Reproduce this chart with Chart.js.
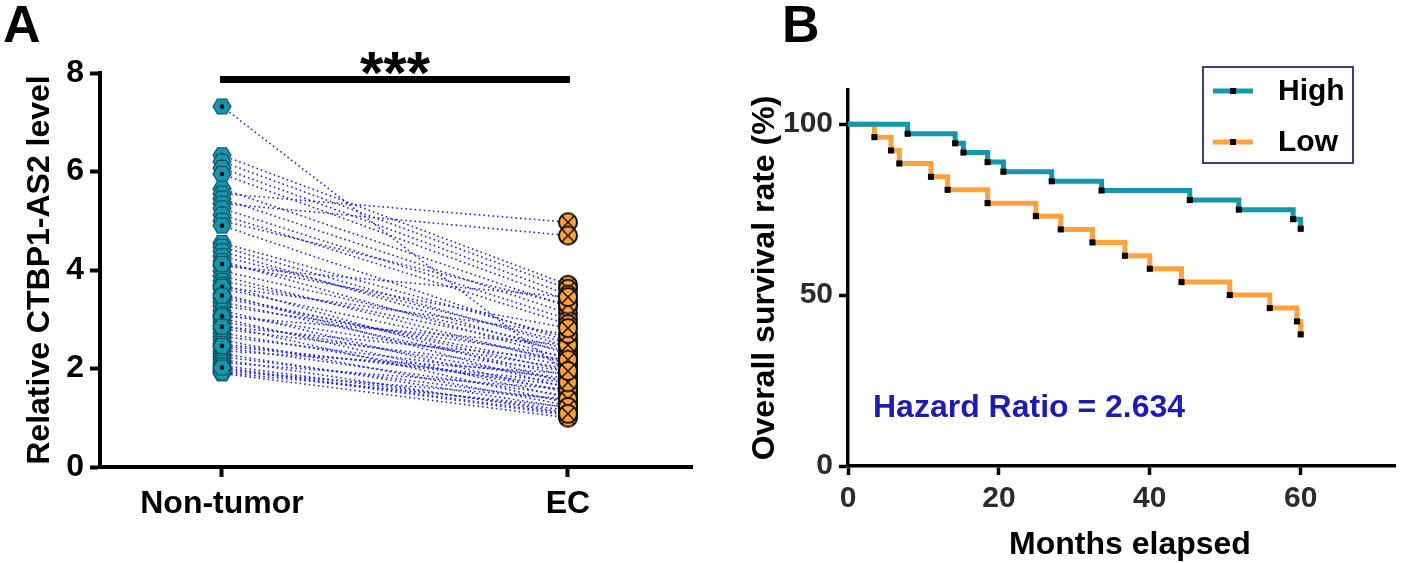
<!DOCTYPE html>
<html>
<head>
<meta charset="utf-8">
<script src="https://cdn.jsdelivr.net/npm/chart.js@4"></script>
<style>
html, body { margin: 0; padding: 0; background: #fff; }
body { width: 1418px; height: 563px; position: relative; overflow: hidden; }
canvas { position: absolute; top: 0; }
#chartA { left: 0; }
#chartB { left: 740px; }
</style>
</head>
<body>
<canvas id="chartA" width="710" height="563"></canvas>
<canvas id="chartB" width="678" height="563"></canvas>
<script>
// panel A: paired expression values
var groups = ['Non-tumor', 'EC'];
var levelTicks = [0, 2, 4, 6, 8];
var nonTumor = [7.32, 6.33, 6.20, 6.07, 5.95, 5.65, 5.55, 5.45, 5.35, 5.25,
                5.12, 5.00, 4.90, 4.55, 4.47, 4.38, 4.28, 4.18, 4.08, 3.98,
                3.88, 3.78, 3.70, 3.62, 3.52, 3.43, 3.35, 3.27, 3.18, 3.10,
                3.02, 2.95, 2.88, 2.80, 2.72, 2.65, 2.58, 2.50, 2.43, 2.36,
                2.30, 2.24, 2.18, 2.12, 2.06, 2.00, 1.95, 1.90, 1.92, 2.02,
                3.06, 3.66, 2.46, 2.85, 4.12, 3.48];
var ecLevel = [1.90, 3.70, 3.62, 3.50, 3.38, 3.25, 4.97, 3.12, 4.70, 3.00,
               2.90, 3.30, 2.55, 2.62, 2.45, 2.30, 2.52, 2.20, 3.45, 2.40,
               2.10, 2.35, 1.70, 2.15, 1.60, 2.05, 1.85, 2.25, 1.50, 2.00,
               1.40, 1.75, 1.30, 1.95, 1.55, 1.80, 1.25, 1.65, 1.45, 1.90,
               1.20, 1.35, 1.10, 1.58, 1.15, 1.05, 1.38, 1.00, 1.22, 1.08,
               2.48, 2.70, 1.72, 2.18, 2.82, 1.95];

// panel B: Kaplan-Meier steps
var monthTicks = [0, 20, 40, 60];
var survivalTicks = [0, 50, 100];
var highMonths = [0, 7.9, 14.2, 15.3, 18.5, 20.6, 27.0, 33.6, 45.3, 51.8, 59.0, 60];
var highSurvival = [100, 97.2, 94.4, 91.7, 88.9, 86.1, 83.3, 80.6, 77.8, 75.0, 72.2, 69.4];
var lowMonths = [0, 3.5, 5.7, 6.8, 11.0, 13.2, 18.5, 24.9, 28.2, 32.4, 36.7, 40.0, 44.2, 50.6, 55.9, 59.5, 60];
var lowSurvival = [100, 96.2, 92.3, 88.5, 84.6, 80.8, 76.9, 73.1, 69.2, 65.4, 61.5, 57.7, 53.8, 50.0, 46.2, 42.3, 38.5];
var seriesNames = ['High', 'Low'];
var hazardText = 'Hazard Ratio = 2.634';

var FAMILY = '"Liberation Sans", Arial, Helvetica, sans-serif';
var TEAL = '#1696ae';
var ORANGE = '#ffa23e';

function font(size) {
    return { family: FAMILY, size: size, weight: 'bold', lineHeight: 1.2 };
}

// marker images
function makeHex() {
    var c = document.createElement('canvas');
    c.width = 20; c.height = 18;
    var g = c.getContext('2d');
    g.beginPath();
    g.moveTo(1, 9); g.lineTo(5.5, 1.5); g.lineTo(14.5, 1.5);
    g.lineTo(19, 9); g.lineTo(14.5, 16.5); g.lineTo(5.5, 16.5);
    g.closePath();
    g.fillStyle = TEAL; g.fill();
    g.lineWidth = 1.2; g.strokeStyle = '#0f4c59'; g.stroke();
    g.beginPath(); g.arc(10, 9, 2.2, 0, Math.PI * 2);
    g.fillStyle = '#000'; g.fill();
    return c;
}
function makeCross() {
    var c = document.createElement('canvas');
    c.width = 22; c.height = 22;
    var g = c.getContext('2d');
    g.beginPath(); g.arc(11, 11, 9, 0, Math.PI * 2);
    g.fillStyle = ORANGE; g.fill();
    g.lineWidth = 2; g.strokeStyle = '#111'; g.stroke();
    g.beginPath();
    g.moveTo(4.8, 4.8); g.lineTo(17.2, 17.2);
    g.moveTo(17.2, 4.8); g.lineTo(4.8, 17.2);
    g.lineWidth = 1.5; g.stroke();
    return c;
}

// ---------- panel A ----------
var datasetsA = [
    {
        label: groups[0], type: 'scatter', order: 0,
        data: nonTumor.map(function (v) { return { x: 0, y: v }; }),
        pointStyle: makeHex(), pointRadius: 9
    },
    {
        label: groups[1], type: 'scatter', order: 0,
        data: ecLevel.map(function (v) { return { x: 1, y: v }; }),
        pointStyle: makeCross(), pointRadius: 10
    }
];
nonTumor.forEach(function (v, i) {
    datasetsA.push({
        type: 'line', order: 1,
        data: [{ x: 0, y: v }, { x: 1, y: ecLevel[i] }],
        borderColor: '#2626e0', borderWidth: 1.6, borderDash: [1.6, 3],
        pointRadius: 0, fill: false
    });
});

var sigBar = {
    id: 'sigBar',
    afterDraw: function (chart) {
        var c = chart.ctx, xs = chart.scales.x, ys = chart.scales.y;
        var x0 = xs.getPixelForValue(0), x1 = xs.getPixelForValue(1);
        var y = ys.getPixelForValue(8) + 6;
        c.save();
        c.fillStyle = '#000';
        c.fillRect(x0 - 2, y - 3, x1 - x0 + 4, 7);
        c.font = 'bold 60px ' + FAMILY;
        c.textAlign = 'center';
        c.textBaseline = 'alphabetic';
        c.fillText('***', (x0 + x1) / 2, y + 14);
        c.font = 'bold 52px ' + FAMILY;
        c.textAlign = 'left';
        c.fillText('A', 3, 42);
        c.restore();
    }
};

new Chart(document.getElementById('chartA'), {
    type: 'scatter',
    data: { datasets: datasetsA },
    options: {
        responsive: false,
        animation: false,
        layout: { padding: { top: 73, right: 18, left: 0, bottom: 0 } },
        plugins: { legend: { display: false }, tooltip: { enabled: false } },
        scales: {
            x: {
                type: 'linear', min: -0.3526, max: 1.3584,
                afterBuildTicks: function (s) { s.ticks = [{ value: 0 }, { value: 1 }]; },
                afterFit: function (s) { s.height = 96; },
                ticks: {
                    callback: function (v, i) { return groups[i]; },
                    font: font(32), color: '#000', padding: 8, maxRotation: 0
                },
                grid: { drawOnChartArea: false, tickLength: 10, tickWidth: 4, tickColor: '#000' },
                border: { width: 4, color: '#000' }
            },
            y: {
                min: 0, max: 8,
                afterBuildTicks: function (s) { s.ticks = levelTicks.map(function (v) { return { value: v }; }); },
                afterFit: function (s) { s.width = 100; },
                ticks: { font: font(32), color: '#000', padding: 6 },
                grid: { drawOnChartArea: false, tickLength: 10, tickWidth: 4, tickColor: '#000' },
                border: { width: 4, color: '#000' },
                title: {
                    display: true, text: 'Relative CTBP1-AS2 level',
                    font: font(32), color: '#000', padding: { top: 21, bottom: 0 }
                }
            }
        }
    },
    plugins: [sigBar]
});

// ---------- panel B ----------
function kmData(months, surv) {
    return months.map(function (m, i) { return { x: m, y: surv[i] }; });
}
function firstHidden(arr, r) {
    return arr.map(function (m, i) { return i === 0 ? 0 : r; });
}

var legendB = {
    id: 'legendB',
    afterDraw: function (chart) {
        var c = chart.ctx;
        c.save();
        c.lineWidth = 2;
        c.strokeStyle = '#3d3d7c';
        c.strokeRect(463, 67, 150, 96);
        var rows = [[TEAL, 91, seriesNames[0]], [ORANGE, 142, seriesNames[1]]];
        rows.forEach(function (r) {
            c.fillStyle = r[0];
            c.fillRect(473, r[1] - 2.5, 40, 5);
            c.fillStyle = '#000';
            c.fillRect(490, r[1] - 3, 6, 6);
            c.font = 'bold 30px ' + FAMILY;
            c.textAlign = 'left';
            c.textBaseline = 'middle';
            c.fillText(r[2], 538, r[1] + 1);
        });
        c.fillStyle = '#1c1cb0';
        c.font = 'bold 32px ' + FAMILY;
        c.textBaseline = 'middle';
        c.fillText(hazardText, 133, 408);
        // x axis title, centred a little right of the plot centre as in the figure
        c.fillStyle = '#000';
        c.textAlign = 'center';
        c.fillText('Months elapsed', 390, 545);
        c.textAlign = 'left';
        c.font = 'bold 52px ' + FAMILY;
        c.textBaseline = 'alphabetic';
        c.fillText('B', 42, 42);
        c.restore();
    }
};

new Chart(document.getElementById('chartB'), {
    type: 'line',
    data: {
        datasets: [
            {
                label: seriesNames[0], data: kmData(highMonths, highSurvival),
                stepped: true, borderColor: TEAL, borderWidth: 5,
                pointStyle: 'rect', pointRadius: firstHidden(highMonths, 4.3),
                pointBackgroundColor: '#000', pointBorderWidth: 0, fill: false
            },
            {
                label: seriesNames[1], data: kmData(lowMonths, lowSurvival),
                stepped: true, borderColor: ORANGE, borderWidth: 5,
                pointStyle: 'rect', pointRadius: firstHidden(lowMonths, 4.3),
                pointBackgroundColor: '#000', pointBorderWidth: 0, fill: false
            }
        ]
    },
    options: {
        responsive: false,
        animation: false,
        layout: { padding: { top: 90, right: 23, left: 0, bottom: 0 } },
        plugins: { legend: { display: false }, tooltip: { enabled: false } },
        scales: {
            x: {
                type: 'linear', min: 0, max: 72.5,
                afterBuildTicks: function (s) { s.ticks = monthTicks.map(function (v) { return { value: v }; }); },
                afterFit: function (s) { s.height = 97; },
                ticks: { font: font(30), color: '#2b2b2b', padding: 6, maxRotation: 0 },
                grid: { drawOnChartArea: false, tickLength: 9, tickWidth: 3.5, tickColor: '#000' },
                border: { width: 3.5, color: '#000' }
            },
            y: {
                min: 0, max: 110,
                afterBuildTicks: function (s) { s.ticks = survivalTicks.map(function (v) { return { value: v }; }); },
                afterFit: function (s) { s.width = 108; },
                ticks: { font: font(30), color: '#2b2b2b', padding: 6 },
                grid: { drawOnChartArea: false, tickLength: 9, tickWidth: 3.5, tickColor: '#000' },
                border: { width: 3.5, color: '#000' },
                title: {
                    display: true, text: 'Overall survival rate (%)',
                    font: font(32), color: '#000', padding: { top: 6, bottom: 0 }
                }
            }
        }
    },
    plugins: [legendB]
});
</script>
</body>
</html>
